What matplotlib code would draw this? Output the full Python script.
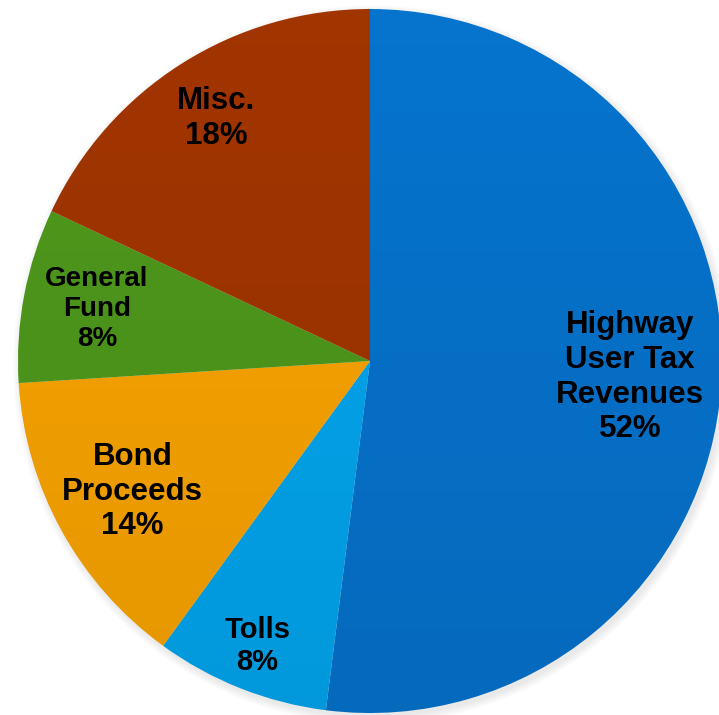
import numpy as np
import matplotlib.pyplot as plt
from matplotlib.patches import Circle

# revenue shares (percent), clockwise from 12 o'clock
categories = ["Highway\nUser Tax\nRevenues", "Tolls", "Bond\nProceeds", "General\nFund", "Misc."]
shares = [52, 8, 14, 8, 18]
colors = ["#0673cd", "#03a5ee", "#f9a400", "#4e981b", "#a13500"]
# how far out each label sits (fraction of radius) and its font size
label_dist = [0.74, 0.87, 0.77, 0.79, 0.815]
label_size = [22.5, 21, 22.5, 20, 22.5]

W, H = 719, 715
cx, cy, r = 370, 354, 352

fig = plt.figure(figsize=(W / 100, H / 100), dpi=100)
ax = fig.add_axes([0, 0, 1, 1])

# faint drop shadow behind the pie
yy, xx = np.mgrid[0:H, 0:W]
d = np.hypot(xx - (cx + 2), (H - yy) - (cy - 3)) - r
shadow = np.clip(1 - d / 8, 0, 1) * 0.12
rgba = np.zeros((H, W, 4))
rgba[..., :3] = 0.3
rgba[..., 3] = shadow
ax.imshow(rgba, extent=(0, W, 0, H), origin="upper", zorder=0)

wedges, _ = ax.pie(shares, colors=colors, startangle=90, counterclock=False,
                   center=(cx, cy), radius=r, frame=True,
                   wedgeprops=dict(linewidth=0, zorder=1))
ax.set_xlim(0, W)
ax.set_ylim(0, H)
ax.axis("off")

# light-to-dark vertical shading over the whole pie
grad = np.linspace(0, 1, 256)[:, None]
shade = np.zeros((256, 1, 4))
shade[..., 3] = 0.08 * grad
img = ax.imshow(shade, extent=(cx - r, cx + r, cy - r, cy + r), origin="upper",
                aspect="auto", zorder=2)
img.set_clip_path(Circle((cx, cy), r, transform=ax.transData))

for w, lab, pct, f, fs in zip(wedges, categories, shares, label_dist, label_size):
    ang = np.deg2rad((w.theta1 + w.theta2) / 2)
    x = cx + f * r * np.cos(ang)
    y = cy + f * r * np.sin(ang)
    ax.text(x, y, f"{lab}\n{pct}%", ha="center", va="center", fontsize=fs,
            fontweight="bold", family="Liberation Sans", linespacing=1.2,
            color="black", zorder=3)

fig.savefig("out.png", dpi=100)
